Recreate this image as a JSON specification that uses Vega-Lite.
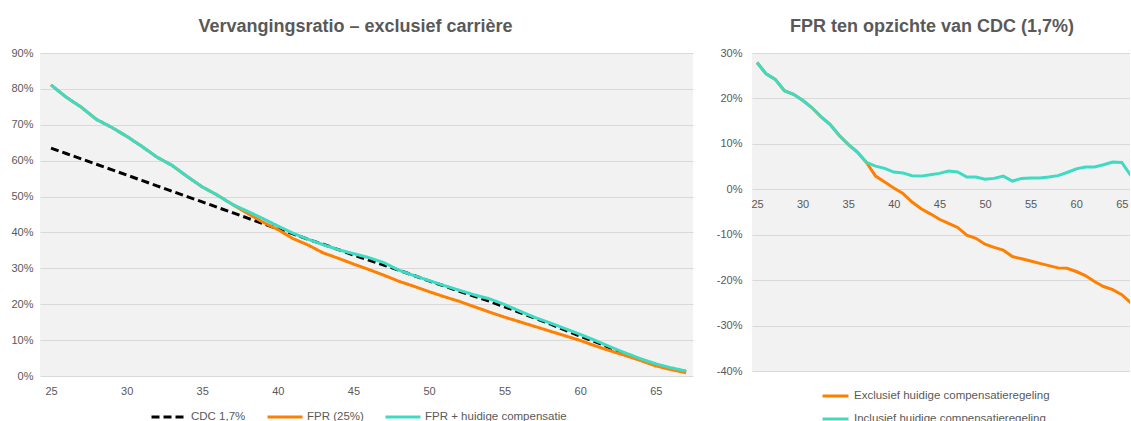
{
  "$schema": "https://vega.github.io/schema/vega-lite/v6.json",
  "padding": {"left": 10, "top": 18, "right": 0, "bottom": 0},
  "background": "#ffffff",
  "spacing": 23,
  "resolve": {"scale": {"color": "independent", "strokeDash": "independent"}, "legend": {"color": "independent", "strokeDash": "independent"}},
  "datasets": {
    "links": [
      {"leeftijd": 25, "reeks": "CDC 1,7%", "waarde": 63.5},
      {"leeftijd": 26, "reeks": "CDC 1,7%", "waarde": 62.0},
      {"leeftijd": 27, "reeks": "CDC 1,7%", "waarde": 60.5},
      {"leeftijd": 28, "reeks": "CDC 1,7%", "waarde": 59.0},
      {"leeftijd": 29, "reeks": "CDC 1,7%", "waarde": 57.5},
      {"leeftijd": 30, "reeks": "CDC 1,7%", "waarde": 56.0},
      {"leeftijd": 31, "reeks": "CDC 1,7%", "waarde": 54.5},
      {"leeftijd": 32, "reeks": "CDC 1,7%", "waarde": 53.0},
      {"leeftijd": 33, "reeks": "CDC 1,7%", "waarde": 51.5},
      {"leeftijd": 34, "reeks": "CDC 1,7%", "waarde": 50.0},
      {"leeftijd": 35, "reeks": "CDC 1,7%", "waarde": 48.5},
      {"leeftijd": 36, "reeks": "CDC 1,7%", "waarde": 47.0},
      {"leeftijd": 37, "reeks": "CDC 1,7%", "waarde": 45.5},
      {"leeftijd": 38, "reeks": "CDC 1,7%", "waarde": 44.0},
      {"leeftijd": 39, "reeks": "CDC 1,7%", "waarde": 42.5},
      {"leeftijd": 40, "reeks": "CDC 1,7%", "waarde": 41.0},
      {"leeftijd": 41, "reeks": "CDC 1,7%", "waarde": 39.6},
      {"leeftijd": 42, "reeks": "CDC 1,7%", "waarde": 38.1},
      {"leeftijd": 43, "reeks": "CDC 1,7%", "waarde": 36.7},
      {"leeftijd": 44, "reeks": "CDC 1,7%", "waarde": 35.2},
      {"leeftijd": 45, "reeks": "CDC 1,7%", "waarde": 33.7},
      {"leeftijd": 46, "reeks": "CDC 1,7%", "waarde": 32.3},
      {"leeftijd": 47, "reeks": "CDC 1,7%", "waarde": 30.9},
      {"leeftijd": 48, "reeks": "CDC 1,7%", "waarde": 29.5},
      {"leeftijd": 49, "reeks": "CDC 1,7%", "waarde": 28.0},
      {"leeftijd": 50, "reeks": "CDC 1,7%", "waarde": 26.5},
      {"leeftijd": 51, "reeks": "CDC 1,7%", "waarde": 25.1},
      {"leeftijd": 52, "reeks": "CDC 1,7%", "waarde": 23.6},
      {"leeftijd": 53, "reeks": "CDC 1,7%", "waarde": 22.2},
      {"leeftijd": 54, "reeks": "CDC 1,7%", "waarde": 20.8},
      {"leeftijd": 55, "reeks": "CDC 1,7%", "waarde": 19.3},
      {"leeftijd": 56, "reeks": "CDC 1,7%", "waarde": 17.7},
      {"leeftijd": 57, "reeks": "CDC 1,7%", "waarde": 16.1},
      {"leeftijd": 58, "reeks": "CDC 1,7%", "waarde": 14.5},
      {"leeftijd": 59, "reeks": "CDC 1,7%", "waarde": 12.8},
      {"leeftijd": 60, "reeks": "CDC 1,7%", "waarde": 11.1},
      {"leeftijd": 61, "reeks": "CDC 1,7%", "waarde": 9.5},
      {"leeftijd": 62, "reeks": "CDC 1,7%", "waarde": 7.8},
      {"leeftijd": 63, "reeks": "CDC 1,7%", "waarde": 6.2},
      {"leeftijd": 64, "reeks": "CDC 1,7%", "waarde": 4.6},
      {"leeftijd": 65, "reeks": "CDC 1,7%", "waarde": 3.2},
      {"leeftijd": 66, "reeks": "CDC 1,7%", "waarde": 2.0},
      {"leeftijd": 67, "reeks": "CDC 1,7%", "waarde": 1.1},
      {"leeftijd": 25, "reeks": "FPR (25%)", "waarde": 81.1},
      {"leeftijd": 26, "reeks": "FPR (25%)", "waarde": 77.7},
      {"leeftijd": 27, "reeks": "FPR (25%)", "waarde": 74.9},
      {"leeftijd": 28, "reeks": "FPR (25%)", "waarde": 71.5},
      {"leeftijd": 29, "reeks": "FPR (25%)", "waarde": 69.3},
      {"leeftijd": 30, "reeks": "FPR (25%)", "waarde": 66.8},
      {"leeftijd": 31, "reeks": "FPR (25%)", "waarde": 64.0},
      {"leeftijd": 32, "reeks": "FPR (25%)", "waarde": 61.0},
      {"leeftijd": 33, "reeks": "FPR (25%)", "waarde": 58.7},
      {"leeftijd": 34, "reeks": "FPR (25%)", "waarde": 55.6},
      {"leeftijd": 35, "reeks": "FPR (25%)", "waarde": 52.7},
      {"leeftijd": 36, "reeks": "FPR (25%)", "waarde": 50.4},
      {"leeftijd": 37, "reeks": "FPR (25%)", "waarde": 47.8},
      {"leeftijd": 38, "reeks": "FPR (25%)", "waarde": 45.3},
      {"leeftijd": 39, "reeks": "FPR (25%)", "waarde": 42.9},
      {"leeftijd": 40, "reeks": "FPR (25%)", "waarde": 40.8},
      {"leeftijd": 41, "reeks": "FPR (25%)", "waarde": 38.3},
      {"leeftijd": 42, "reeks": "FPR (25%)", "waarde": 36.5},
      {"leeftijd": 43, "reeks": "FPR (25%)", "waarde": 34.3},
      {"leeftijd": 44, "reeks": "FPR (25%)", "waarde": 32.8},
      {"leeftijd": 45, "reeks": "FPR (25%)", "waarde": 31.2},
      {"leeftijd": 46, "reeks": "FPR (25%)", "waarde": 29.7},
      {"leeftijd": 47, "reeks": "FPR (25%)", "waarde": 28.1},
      {"leeftijd": 48, "reeks": "FPR (25%)", "waarde": 26.4},
      {"leeftijd": 49, "reeks": "FPR (25%)", "waarde": 25.0},
      {"leeftijd": 50, "reeks": "FPR (25%)", "waarde": 23.5},
      {"leeftijd": 51, "reeks": "FPR (25%)", "waarde": 22.1},
      {"leeftijd": 52, "reeks": "FPR (25%)", "waarde": 20.8},
      {"leeftijd": 53, "reeks": "FPR (25%)", "waarde": 19.3},
      {"leeftijd": 54, "reeks": "FPR (25%)", "waarde": 17.8},
      {"leeftijd": 55, "reeks": "FPR (25%)", "waarde": 16.4},
      {"leeftijd": 56, "reeks": "FPR (25%)", "waarde": 15.1},
      {"leeftijd": 57, "reeks": "FPR (25%)", "waarde": 13.8},
      {"leeftijd": 58, "reeks": "FPR (25%)", "waarde": 12.5},
      {"leeftijd": 59, "reeks": "FPR (25%)", "waarde": 11.2},
      {"leeftijd": 60, "reeks": "FPR (25%)", "waarde": 9.9},
      {"leeftijd": 61, "reeks": "FPR (25%)", "waarde": 8.4},
      {"leeftijd": 62, "reeks": "FPR (25%)", "waarde": 7.0},
      {"leeftijd": 63, "reeks": "FPR (25%)", "waarde": 5.7},
      {"leeftijd": 64, "reeks": "FPR (25%)", "waarde": 4.3},
      {"leeftijd": 65, "reeks": "FPR (25%)", "waarde": 2.8},
      {"leeftijd": 66, "reeks": "FPR (25%)", "waarde": 1.8},
      {"leeftijd": 67, "reeks": "FPR (25%)", "waarde": 0.9},
      {"leeftijd": 25, "reeks": "FPR + huidige compensatie", "waarde": 81.1},
      {"leeftijd": 26, "reeks": "FPR + huidige compensatie", "waarde": 77.7},
      {"leeftijd": 27, "reeks": "FPR + huidige compensatie", "waarde": 74.9},
      {"leeftijd": 28, "reeks": "FPR + huidige compensatie", "waarde": 71.5},
      {"leeftijd": 29, "reeks": "FPR + huidige compensatie", "waarde": 69.3},
      {"leeftijd": 30, "reeks": "FPR + huidige compensatie", "waarde": 66.8},
      {"leeftijd": 31, "reeks": "FPR + huidige compensatie", "waarde": 64.0},
      {"leeftijd": 32, "reeks": "FPR + huidige compensatie", "waarde": 61.0},
      {"leeftijd": 33, "reeks": "FPR + huidige compensatie", "waarde": 58.7},
      {"leeftijd": 34, "reeks": "FPR + huidige compensatie", "waarde": 55.6},
      {"leeftijd": 35, "reeks": "FPR + huidige compensatie", "waarde": 52.7},
      {"leeftijd": 36, "reeks": "FPR + huidige compensatie", "waarde": 50.4},
      {"leeftijd": 37, "reeks": "FPR + huidige compensatie", "waarde": 47.8},
      {"leeftijd": 38, "reeks": "FPR + huidige compensatie", "waarde": 45.9},
      {"leeftijd": 39, "reeks": "FPR + huidige compensatie", "waarde": 43.9},
      {"leeftijd": 40, "reeks": "FPR + huidige compensatie", "waarde": 41.8},
      {"leeftijd": 41, "reeks": "FPR + huidige compensatie", "waarde": 39.8},
      {"leeftijd": 42, "reeks": "FPR + huidige compensatie", "waarde": 38.1},
      {"leeftijd": 43, "reeks": "FPR + huidige compensatie", "waarde": 36.6},
      {"leeftijd": 44, "reeks": "FPR + huidige compensatie", "waarde": 35.2},
      {"leeftijd": 45, "reeks": "FPR + huidige compensatie", "waarde": 34.1},
      {"leeftijd": 46, "reeks": "FPR + huidige compensatie", "waarde": 33.0},
      {"leeftijd": 47, "reeks": "FPR + huidige compensatie", "waarde": 31.6},
      {"leeftijd": 48, "reeks": "FPR + huidige compensatie", "waarde": 29.5},
      {"leeftijd": 49, "reeks": "FPR + huidige compensatie", "waarde": 28.0},
      {"leeftijd": 50, "reeks": "FPR + huidige compensatie", "waarde": 26.6},
      {"leeftijd": 51, "reeks": "FPR + huidige compensatie", "waarde": 25.2},
      {"leeftijd": 52, "reeks": "FPR + huidige compensatie", "waarde": 23.9},
      {"leeftijd": 53, "reeks": "FPR + huidige compensatie", "waarde": 22.6},
      {"leeftijd": 54, "reeks": "FPR + huidige compensatie", "waarde": 21.5},
      {"leeftijd": 55, "reeks": "FPR + huidige compensatie", "waarde": 19.9},
      {"leeftijd": 56, "reeks": "FPR + huidige compensatie", "waarde": 18.1},
      {"leeftijd": 57, "reeks": "FPR + huidige compensatie", "waarde": 16.3},
      {"leeftijd": 58, "reeks": "FPR + huidige compensatie", "waarde": 14.8},
      {"leeftijd": 59, "reeks": "FPR + huidige compensatie", "waarde": 13.2},
      {"leeftijd": 60, "reeks": "FPR + huidige compensatie", "waarde": 11.6},
      {"leeftijd": 61, "reeks": "FPR + huidige compensatie", "waarde": 9.9},
      {"leeftijd": 62, "reeks": "FPR + huidige compensatie", "waarde": 8.1},
      {"leeftijd": 63, "reeks": "FPR + huidige compensatie", "waarde": 6.4},
      {"leeftijd": 64, "reeks": "FPR + huidige compensatie", "waarde": 4.8},
      {"leeftijd": 65, "reeks": "FPR + huidige compensatie", "waarde": 3.4},
      {"leeftijd": 66, "reeks": "FPR + huidige compensatie", "waarde": 2.3},
      {"leeftijd": 67, "reeks": "FPR + huidige compensatie", "waarde": 1.4}
    ],
    "rechts": [
      {"leeftijd": 25, "reeks": "Exclusief huidige compensatieregeling", "waarde": 27.9},
      {"leeftijd": 26, "reeks": "Exclusief huidige compensatieregeling", "waarde": 25.4},
      {"leeftijd": 27, "reeks": "Exclusief huidige compensatieregeling", "waarde": 24.2},
      {"leeftijd": 28, "reeks": "Exclusief huidige compensatieregeling", "waarde": 21.7},
      {"leeftijd": 29, "reeks": "Exclusief huidige compensatieregeling", "waarde": 20.9},
      {"leeftijd": 30, "reeks": "Exclusief huidige compensatieregeling", "waarde": 19.6},
      {"leeftijd": 31, "reeks": "Exclusief huidige compensatieregeling", "waarde": 18.0},
      {"leeftijd": 32, "reeks": "Exclusief huidige compensatieregeling", "waarde": 16.0},
      {"leeftijd": 33, "reeks": "Exclusief huidige compensatieregeling", "waarde": 14.3},
      {"leeftijd": 34, "reeks": "Exclusief huidige compensatieregeling", "waarde": 11.9},
      {"leeftijd": 35, "reeks": "Exclusief huidige compensatieregeling", "waarde": 9.9},
      {"leeftijd": 36, "reeks": "Exclusief huidige compensatieregeling", "waarde": 8.2},
      {"leeftijd": 37, "reeks": "Exclusief huidige compensatieregeling", "waarde": 5.9},
      {"leeftijd": 38, "reeks": "Exclusief huidige compensatieregeling", "waarde": 2.9},
      {"leeftijd": 39, "reeks": "Exclusief huidige compensatieregeling", "waarde": 1.6},
      {"leeftijd": 40, "reeks": "Exclusief huidige compensatieregeling", "waarde": 0.3},
      {"leeftijd": 41, "reeks": "Exclusief huidige compensatieregeling", "waarde": -0.9},
      {"leeftijd": 42, "reeks": "Exclusief huidige compensatieregeling", "waarde": -2.8},
      {"leeftijd": 43, "reeks": "Exclusief huidige compensatieregeling", "waarde": -4.3},
      {"leeftijd": 44, "reeks": "Exclusief huidige compensatieregeling", "waarde": -5.4},
      {"leeftijd": 45, "reeks": "Exclusief huidige compensatieregeling", "waarde": -6.6},
      {"leeftijd": 46, "reeks": "Exclusief huidige compensatieregeling", "waarde": -7.5},
      {"leeftijd": 47, "reeks": "Exclusief huidige compensatieregeling", "waarde": -8.4},
      {"leeftijd": 48, "reeks": "Exclusief huidige compensatieregeling", "waarde": -10.1},
      {"leeftijd": 49, "reeks": "Exclusief huidige compensatieregeling", "waarde": -10.8},
      {"leeftijd": 50, "reeks": "Exclusief huidige compensatieregeling", "waarde": -12.1},
      {"leeftijd": 51, "reeks": "Exclusief huidige compensatieregeling", "waarde": -12.8},
      {"leeftijd": 52, "reeks": "Exclusief huidige compensatieregeling", "waarde": -13.4},
      {"leeftijd": 53, "reeks": "Exclusief huidige compensatieregeling", "waarde": -14.8},
      {"leeftijd": 54, "reeks": "Exclusief huidige compensatieregeling", "waarde": -15.3},
      {"leeftijd": 55, "reeks": "Exclusief huidige compensatieregeling", "waarde": -15.8},
      {"leeftijd": 56, "reeks": "Exclusief huidige compensatieregeling", "waarde": -16.3},
      {"leeftijd": 57, "reeks": "Exclusief huidige compensatieregeling", "waarde": -16.8},
      {"leeftijd": 58, "reeks": "Exclusief huidige compensatieregeling", "waarde": -17.3},
      {"leeftijd": 59, "reeks": "Exclusief huidige compensatieregeling", "waarde": -17.4},
      {"leeftijd": 60, "reeks": "Exclusief huidige compensatieregeling", "waarde": -18.1},
      {"leeftijd": 61, "reeks": "Exclusief huidige compensatieregeling", "waarde": -19.0},
      {"leeftijd": 62, "reeks": "Exclusief huidige compensatieregeling", "waarde": -20.3},
      {"leeftijd": 63, "reeks": "Exclusief huidige compensatieregeling", "waarde": -21.4},
      {"leeftijd": 64, "reeks": "Exclusief huidige compensatieregeling", "waarde": -22.1},
      {"leeftijd": 65, "reeks": "Exclusief huidige compensatieregeling", "waarde": -23.2},
      {"leeftijd": 66, "reeks": "Exclusief huidige compensatieregeling", "waarde": -25.0},
      {"leeftijd": 25, "reeks": "Inclusief huidige compensatieregeling", "waarde": 27.9},
      {"leeftijd": 26, "reeks": "Inclusief huidige compensatieregeling", "waarde": 25.4},
      {"leeftijd": 27, "reeks": "Inclusief huidige compensatieregeling", "waarde": 24.2},
      {"leeftijd": 28, "reeks": "Inclusief huidige compensatieregeling", "waarde": 21.7},
      {"leeftijd": 29, "reeks": "Inclusief huidige compensatieregeling", "waarde": 20.9},
      {"leeftijd": 30, "reeks": "Inclusief huidige compensatieregeling", "waarde": 19.6},
      {"leeftijd": 31, "reeks": "Inclusief huidige compensatieregeling", "waarde": 18.0},
      {"leeftijd": 32, "reeks": "Inclusief huidige compensatieregeling", "waarde": 16.0},
      {"leeftijd": 33, "reeks": "Inclusief huidige compensatieregeling", "waarde": 14.3},
      {"leeftijd": 34, "reeks": "Inclusief huidige compensatieregeling", "waarde": 11.9},
      {"leeftijd": 35, "reeks": "Inclusief huidige compensatieregeling", "waarde": 9.9},
      {"leeftijd": 36, "reeks": "Inclusief huidige compensatieregeling", "waarde": 8.2},
      {"leeftijd": 37, "reeks": "Inclusief huidige compensatieregeling", "waarde": 5.9},
      {"leeftijd": 38, "reeks": "Inclusief huidige compensatieregeling", "waarde": 5.1},
      {"leeftijd": 39, "reeks": "Inclusief huidige compensatieregeling", "waarde": 4.6},
      {"leeftijd": 40, "reeks": "Inclusief huidige compensatieregeling", "waarde": 3.8},
      {"leeftijd": 41, "reeks": "Inclusief huidige compensatieregeling", "waarde": 3.6},
      {"leeftijd": 42, "reeks": "Inclusief huidige compensatieregeling", "waarde": 3.0},
      {"leeftijd": 43, "reeks": "Inclusief huidige compensatieregeling", "waarde": 2.9},
      {"leeftijd": 44, "reeks": "Inclusief huidige compensatieregeling", "waarde": 3.2},
      {"leeftijd": 45, "reeks": "Inclusief huidige compensatieregeling", "waarde": 3.5},
      {"leeftijd": 46, "reeks": "Inclusief huidige compensatieregeling", "waarde": 4.0},
      {"leeftijd": 47, "reeks": "Inclusief huidige compensatieregeling", "waarde": 3.8},
      {"leeftijd": 48, "reeks": "Inclusief huidige compensatieregeling", "waarde": 2.7},
      {"leeftijd": 49, "reeks": "Inclusief huidige compensatieregeling", "waarde": 2.7},
      {"leeftijd": 50, "reeks": "Inclusief huidige compensatieregeling", "waarde": 2.2},
      {"leeftijd": 51, "reeks": "Inclusief huidige compensatieregeling", "waarde": 2.4},
      {"leeftijd": 52, "reeks": "Inclusief huidige compensatieregeling", "waarde": 2.9},
      {"leeftijd": 53, "reeks": "Inclusief huidige compensatieregeling", "waarde": 1.8},
      {"leeftijd": 54, "reeks": "Inclusief huidige compensatieregeling", "waarde": 2.4},
      {"leeftijd": 55, "reeks": "Inclusief huidige compensatieregeling", "waarde": 2.5},
      {"leeftijd": 56, "reeks": "Inclusief huidige compensatieregeling", "waarde": 2.5},
      {"leeftijd": 57, "reeks": "Inclusief huidige compensatieregeling", "waarde": 2.7},
      {"leeftijd": 58, "reeks": "Inclusief huidige compensatieregeling", "waarde": 3.0},
      {"leeftijd": 59, "reeks": "Inclusief huidige compensatieregeling", "waarde": 3.7},
      {"leeftijd": 60, "reeks": "Inclusief huidige compensatieregeling", "waarde": 4.5},
      {"leeftijd": 61, "reeks": "Inclusief huidige compensatieregeling", "waarde": 4.9},
      {"leeftijd": 62, "reeks": "Inclusief huidige compensatieregeling", "waarde": 4.9},
      {"leeftijd": 63, "reeks": "Inclusief huidige compensatieregeling", "waarde": 5.4},
      {"leeftijd": 64, "reeks": "Inclusief huidige compensatieregeling", "waarde": 6.0},
      {"leeftijd": 65, "reeks": "Inclusief huidige compensatieregeling", "waarde": 5.9},
      {"leeftijd": 66, "reeks": "Inclusief huidige compensatieregeling", "waarde": 3.0}
    ]
  },
  "hconcat": [
    {
      "width": 653,
      "height": 323,
      "title": {"text": "Vervangingsratio – exclusief carrière", "dx": -11},
      "data": {"name": "links"},
      "mark": {"type": "line", "strokeWidth": 3, "clip": true},
      "encoding": {
        "x": {
          "field": "leeftijd",
          "type": "quantitative",
          "scale": {"domain": [24.27, 67.46], "nice": false, "zero": false},
          "axis": {"title": null, "values": [25, 30, 35, 40, 45, 50, 55, 60, 65], "grid": false, "ticks": false, "domain": false, "labelPadding": 9}
        },
        "y": {
          "field": "waarde",
          "type": "quantitative",
          "scale": {"domain": [0, 90], "nice": false},
          "axis": {"title": null, "values": [0, 10, 20, 30, 40, 50, 60, 70, 80, 90], "labelExpr": "datum.value + '%'", "ticks": false, "domain": false, "labelPadding": 7}
        },
        "color": {
          "field": "reeks",
          "type": "nominal",
          "scale": {"domain": ["CDC 1,7%", "FPR (25%)", "FPR + huidige compensatie"], "range": ["#000000", "#ff8000", "#3ddbc3"]},
          "legend": {"title": null, "orient": "none", "legendX": 110, "legendY": 358, "direction": "horizontal", "symbolSize": 1225, "clipHeight": 12, "columnPadding": 20, "labelOffset": 3}
        },
        "strokeDash": {
          "field": "reeks",
          "type": "nominal",
          "scale": {"domain": ["CDC 1,7%", "FPR (25%)", "FPR + huidige compensatie"], "range": [[8, 4], [1, 0], [1, 0]]},
          "legend": {"title": null, "orient": "none", "legendX": 110, "legendY": 358, "direction": "horizontal", "symbolSize": 1225, "clipHeight": 12, "columnPadding": 20, "labelOffset": 3}
        }
      }
    },
    {
      "width": 378,
      "height": 318,
      "title": {"text": "FPR ten opzichte van CDC (1,7%)", "dx": -9},
      "data": {"name": "rechts"},
      "mark": {"type": "line", "strokeWidth": 3, "clip": true},
      "encoding": {
        "x": {
          "field": "leeftijd",
          "type": "quantitative",
          "scale": {"domain": [24.45, 65.9], "nice": false, "zero": false},
          "axis": {"title": null, "values": [25, 30, 35, 40, 45, 50, 55, 60, 65], "grid": false, "ticks": false, "domain": false, "offset": -182, "labelPadding": 9}
        },
        "y": {
          "field": "waarde",
          "type": "quantitative",
          "scale": {"domain": [-40, 30], "nice": false},
          "axis": {"title": null, "values": [-40, -30, -20, -10, 0, 10, 20, 30], "labelExpr": "datum.value + '%'", "ticks": false, "domain": false, "labelPadding": 10}
        },
        "color": {
          "field": "reeks",
          "type": "nominal",
          "scale": {"domain": ["Exclusief huidige compensatieregeling", "Inclusief huidige compensatieregeling"], "range": ["#ff8000", "#3ddbc3"]},
          "legend": {"title": null, "orient": "none", "legendX": 69, "legendY": 337, "direction": "vertical", "symbolSize": 676, "clipHeight": 12, "rowPadding": 11, "labelOffset": 4}
        }
      }
    }
  ],
  "config": {
    "font": "Liberation Sans",
    "view": {"fill": "#f2f2f2", "stroke": null},
    "title": {"fontSize": 18, "fontWeight": "bold", "color": "#595959", "anchor": "middle", "offset": 11},
    "axis": {"labelFont": "Liberation Sans", "labelFontSize": 11, "labelColor": "#595959", "gridColor": "#d9d9d9", "gridWidth": 1.2},
    "legend": {"labelFont": "Liberation Sans", "labelFontSize": 11.5, "labelColor": "#595959", "symbolType": "stroke", "symbolStrokeWidth": 3, "labelLimit": 400}
  }
}
